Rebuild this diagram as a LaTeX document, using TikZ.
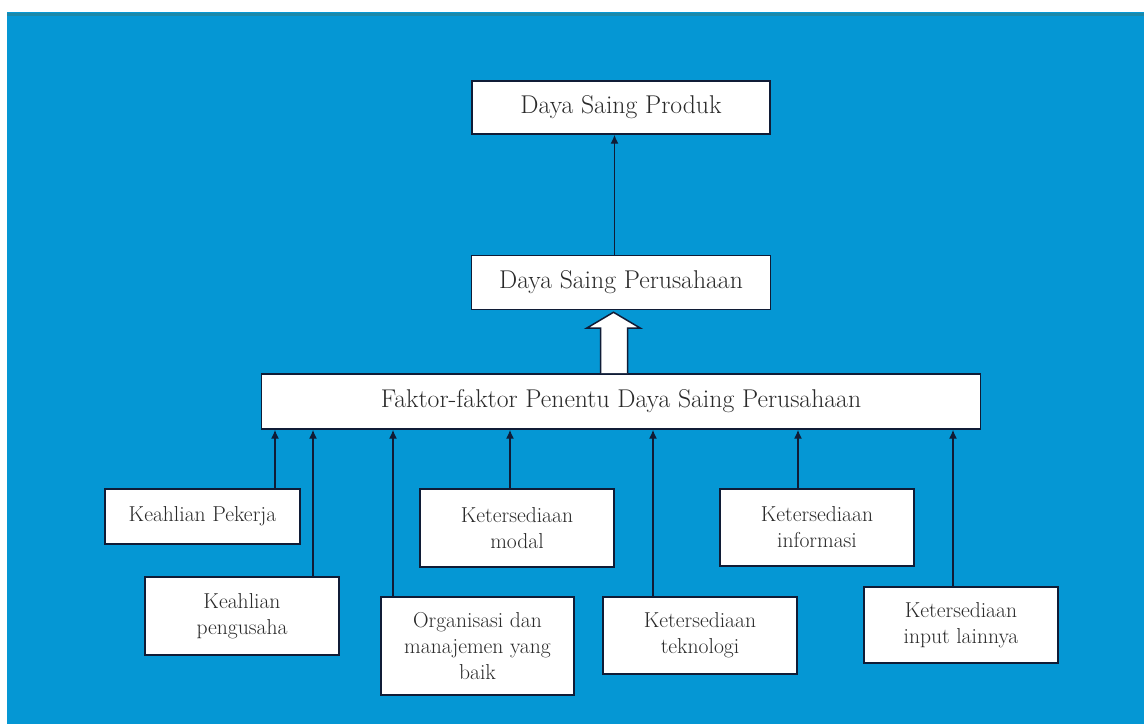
\documentclass[tikz,border=0pt]{standalone}
\usepackage{xcolor}
\usepackage{tikz}
\usetikzlibrary{arrows.meta, positioning}

\definecolor{bgblue}{RGB}{5,151,212}
\definecolor{bgteal}{RGB}{28,136,168}
\definecolor{edgenavy}{RGB}{16,28,54}
\definecolor{textgray}{RGB}{42,42,42}

\begin{document}
\begin{tikzpicture}[
        x=1pt, y=1pt,
        topbox/.style={draw=edgenavy, line width=1.5pt, fill=white, rectangle, inner sep=0pt, align=center, text=textgray, font=\fontsize{25.7}{30}\selectfont},
        factor/.style={draw=edgenavy, line width=1.5pt, fill=white, rectangle, inner sep=0pt, minimum width=194pt, align=center, text=textgray, font=\fontsize{21.6}{26}\selectfont},
        link/.style={draw=edgenavy, line width=1.4pt, -{Latex[length=9pt, width=8pt]}},
        node distance=0pt
    ]
        \useasboundingbox (0,0) rectangle (1144,724);
        \fill[white] (0,0) rectangle (1144,724);
        \fill[bgblue] (7,0) rectangle (1144,712);
        \fill[bgteal] (7,708) rectangle (1144,711);

        \node[topbox, minimum width=298pt, minimum height=53pt] (produk) at (621,616.5) {Daya Saing Produk};
        \node[topbox, minimum width=299pt, minimum height=54pt, below=120pt of produk] (perusahaan) {Daya Saing Perusahaan};
        \node[topbox, minimum width=719pt, minimum height=55pt, below=63pt of perusahaan] (faktor) {Faktor-faktor Penentu Daya Saing Perusahaan};

        \node[factor, minimum width=195pt, minimum height=55pt] (pekerja) at (202.5,207.5) {Keahlian Pekerja};
        \node[factor, minimum height=78pt] (pengusaha) at (242,108) {Keahlian\\pengusaha};
        \node[factor, minimum width=193pt, minimum height=98pt] (organisasi) at (477.5,78) {Organisasi dan\\manajemen yang\\baik};
        \node[factor, minimum height=78pt] (modal) at (517,196) {Ketersediaan\\modal};
        \node[factor, minimum height=77pt] (teknologi) at (700,88.5) {Ketersediaan\\teknologi};
        \node[factor, minimum height=77pt] (informasi) at (817,196.5) {Ketersediaan\\informasi};
        \node[factor, minimum height=76pt] (lainnya) at (961,99) {Ketersediaan\\input lainnya};

        \draw[link] ([xshift=-6.5pt]perusahaan.north) -- ([xshift=-6.5pt]produk.south);
        \draw[edgenavy, line width=1.5pt, fill=white, line join=miter]
            ([xshift=-20.5pt]faktor.north) -- ++(0,45) -- ++(-14,0) -- ++(27,16) -- ++(27,-16) -- ++(-13,0) -- ++(0,-45);

        \draw[link] ([xshift=72.5pt]pekerja.north) -- ([xshift=72.5pt]pekerja.north |- faktor.south);
        \draw[link] ([xshift=71pt]pengusaha.north) -- ([xshift=71pt]pengusaha.north |- faktor.south);
        \draw[link] ([xshift=-84.5pt]organisasi.north) -- ([xshift=-84.5pt]organisasi.north |- faktor.south);
        \draw[link] ([xshift=-7pt]modal.north) -- ([xshift=-7pt]modal.north |- faktor.south);
        \draw[link] ([xshift=-47pt]teknologi.north) -- ([xshift=-47pt]teknologi.north |- faktor.south);
        \draw[link] ([xshift=-19pt]informasi.north) -- ([xshift=-19pt]informasi.north |- faktor.south);
        \draw[link] ([xshift=-8pt]lainnya.north) -- ([xshift=-8pt]lainnya.north |- faktor.south);
    \end{tikzpicture}
\end{document}
